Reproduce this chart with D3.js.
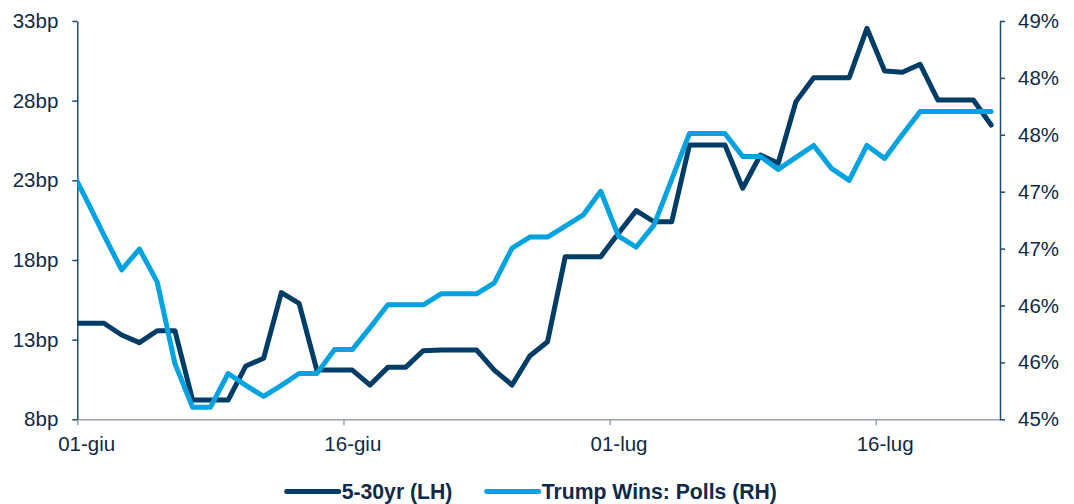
<!DOCTYPE html>
<html>
<head>
<meta charset="utf-8">
<script src="https://cdn.jsdelivr.net/npm/d3@7/dist/d3.min.js"></script>
<style>
  body { margin: 0; background: #fff; }
  text { font-family: "Liberation Sans", Arial, sans-serif; fill: #0e2a47; }
</style>
</head>
<body>
<div id="chart"></div>
<script>
// daily dates, 31 May 2024 -> 22 Jul 2024
var dates = [
  "2024-05-31",
  "2024-06-01","2024-06-02","2024-06-03","2024-06-04","2024-06-05","2024-06-06","2024-06-07",
  "2024-06-08","2024-06-09","2024-06-10","2024-06-11","2024-06-12","2024-06-13","2024-06-14",
  "2024-06-15","2024-06-16","2024-06-17","2024-06-18","2024-06-19","2024-06-20","2024-06-21",
  "2024-06-22","2024-06-23","2024-06-24","2024-06-25","2024-06-26","2024-06-27","2024-06-28",
  "2024-06-29","2024-06-30","2024-07-01","2024-07-02","2024-07-03","2024-07-04","2024-07-05",
  "2024-07-06","2024-07-07","2024-07-08","2024-07-09","2024-07-10","2024-07-11","2024-07-12",
  "2024-07-13","2024-07-14","2024-07-15","2024-07-16","2024-07-17","2024-07-18","2024-07-19",
  "2024-07-20","2024-07-21","2024-07-22"
];

// 5-30yr curve, bp (left axis)
var curve = [
  14.03,
  14.03, 14.03, 13.29, 12.81, 13.56, 13.56, 9.21,
  9.21, 9.21, 11.35, 11.83, 15.95, 15.28, 11.09,
  11.09, 11.09, 10.15, 11.26, 11.26, 12.31, 12.35,
  12.35, 12.35, 11.09, 10.15, 11.97, 12.87, 18.21,
  18.21, 18.21, 19.68, 21.10, 20.40, 20.40, 25.22,
  25.22, 25.22, 22.50, 24.59, 24.07, 27.94, 29.44,
  29.44, 29.44, 32.54, 29.86, 29.78, 30.28, 28.04,
  28.04, 28.04, 26.47
];

// Trump wins: polls, % (right axis)
var polls = [
  47.56,
  47.21, 46.85, 46.50, 46.71, 46.38, 45.56, 45.12,
  45.12, 45.46, 45.34, 45.23, 45.34, 45.46, 45.46,
  45.70, 45.70, 45.92, 46.15, 46.15, 46.15, 46.26,
  46.26, 46.26, 46.37, 46.72, 46.83, 46.83, 46.94,
  47.05, 47.29, 46.84, 46.73, 46.95, 47.41, 47.87,
  47.87, 47.87, 47.64, 47.64, 47.51, 47.63, 47.75,
  47.52, 47.40, 47.75, 47.62, 47.86, 48.09, 48.09,
  48.09, 48.09, 48.09
];

var seriesNames = ["5-30yr (LH)", "Trump Wins: Polls (RH)"];
var seriesColors = ["#003d66", "#00a3e0"];

var leftTicks = [8, 13, 18, 23, 28, 33];
var rightTicks = d3.range(8).map(i => 45 + i * 4 / 7);
var xTicks = ["2024-06-01", "2024-06-16", "2024-07-01", "2024-07-16"];
var xStart = "2024-06-01", xEnd = "2024-07-23";

var svgWidth = 1074;
var svgHeight = 504;
var margin = { top: 21, right: 74, bottom: 84.7, left: 77.3 };
var width = svgWidth - margin.left - margin.right;
var height = svgHeight - margin.top - margin.bottom;

var parse = d3.timeParse("%Y-%m-%d");
var it = d3.timeFormatLocale({
  dateTime: "%A %e %B %Y, %X", date: "%d/%m/%Y", time: "%H:%M:%S",
  periods: ["AM", "PM"],
  days: ["domenica","lunedì","martedì","mercoledì","giovedì","venerdì","sabato"],
  shortDays: ["dom","lun","mar","mer","gio","ven","sab"],
  months: ["gennaio","febbraio","marzo","aprile","maggio","giugno","luglio","agosto","settembre","ottobre","novembre","dicembre"],
  shortMonths: ["gen","feb","mar","apr","mag","giu","lug","ago","set","ott","nov","dic"]
});
var fmtDate = it.format("%d-%b");

var svg = d3.select("#chart").append("svg")
  .attr("width", svgWidth)
  .attr("height", svgHeight);

var chartGroup = svg.append("g")
  .attr("transform", `translate(${margin.left}, ${margin.top})`);

var xScale = d3.scaleTime()
  .domain([parse(xStart), parse(xEnd)])
  .range([0, width]);
var yLeft = d3.scaleLinear().domain([8, 33]).range([height, 0]);
var yRight = d3.scaleLinear().domain([45, 49]).range([height, 0]);

// points sit in the middle of each day slot
var mid = d => xScale(d3.timeHour.offset(parse(d), 12));
var halfDay = xScale(d3.timeHour.offset(parse(xStart), 12)) - xScale(parse(xStart));

// x axis
var xAxis = chartGroup.append("g")
  .attr("transform", `translate(0, ${height})`)
  .call(d3.axisBottom(xScale)
    .tickValues(xTicks.map(parse))
    .tickFormat(fmtDate)
    .tickSize(6)
    .tickSizeOuter(0)
    .tickPadding(11.6));
xAxis.select(".domain").attr("stroke", "#9ba4ae").attr("stroke-width", 1.5);
xAxis.selectAll(".tick line").attr("stroke", "#9ba4ae").attr("stroke-width", 1.5);
xAxis.selectAll("text")
  .attr("x", halfDay)
  .attr("font-size", "20.5px")
  .attr("fill", "#0e2a47");

// left axis
var leftAxis = chartGroup.append("g")
  .call(d3.axisLeft(yLeft)
    .tickValues(leftTicks)
    .tickFormat(d => d + "bp")
    .tickSize(5)
    .tickSizeOuter(0)
    .tickPadding(14));
leftAxis.select(".domain").attr("stroke", "#1d4a70").attr("stroke-width", 1.5);
leftAxis.selectAll(".tick line").attr("stroke", "#1d4a70").attr("stroke-width", 1.5);
leftAxis.selectAll("text").attr("font-size", "20.5px").attr("fill", "#0e2a47");

// right axis
var rightAxis = chartGroup.append("g")
  .attr("transform", `translate(${width}, 0)`)
  .call(d3.axisRight(yRight)
    .tickValues(rightTicks)
    .tickFormat(d => Math.round(d) + "%")
    .tickSize(5)
    .tickSizeOuter(0)
    .tickPadding(13));
rightAxis.select(".domain").attr("stroke", "#1d4a70").attr("stroke-width", 1.5);
rightAxis.selectAll(".tick line").attr("stroke", "#1d4a70").attr("stroke-width", 1.5);
rightAxis.selectAll("text").attr("font-size", "20.5px").attr("fill", "#0e2a47");

// clip lines to the plot area
svg.append("defs").append("clipPath").attr("id", "plotClip")
  .append("rect")
  .attr("x", 0).attr("y", -10)
  .attr("width", width).attr("height", height + 20);

var plot = chartGroup.append("g").attr("clip-path", "url(#plotClip)");

var curveLine = d3.line()
  .x((d, i) => mid(dates[i]))
  .y(d => yLeft(d));
var pollsLine = d3.line()
  .x((d, i) => mid(dates[i]))
  .y(d => yRight(d));

plot.append("path")
  .datum(curve)
  .attr("d", curveLine)
  .attr("fill", "none")
  .attr("stroke", seriesColors[0])
  .attr("stroke-width", 5)
  .attr("stroke-linejoin", "round")
  .attr("stroke-linecap", "round");

plot.append("path")
  .datum(polls)
  .attr("d", pollsLine)
  .attr("fill", "none")
  .attr("stroke", seriesColors[1])
  .attr("stroke-width", 5)
  .attr("stroke-linejoin", "round")
  .attr("stroke-linecap", "round");

// legend
var legendX = [286.7, 486.7];
var legend = svg.append("g");
seriesNames.forEach(function(name, i) {
  var g = legend.append("g").attr("transform", `translate(${legendX[i]}, 491.5)`);
  g.append("line")
    .attr("x1", 0).attr("x2", 52)
    .attr("stroke", seriesColors[i])
    .attr("stroke-width", 5)
    .attr("stroke-linecap", "round");
  g.append("text")
    .attr("x", 55)
    .attr("dy", "0.36em")
    .attr("font-size", "21.2px")
    .attr("font-weight", "bold")
    .attr("fill", "#0e2a47")
    .text(name);
});
</script>
</body>
</html>
